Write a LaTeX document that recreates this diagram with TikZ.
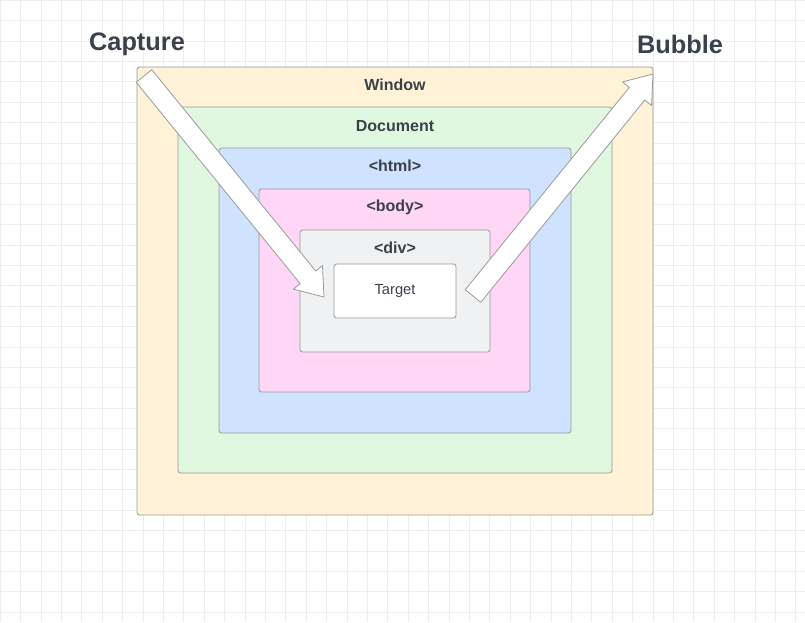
\documentclass[tikz,border=0pt]{standalone}
\usepackage{fontspec}
\setmainfont{Liberation Sans}
\usetikzlibrary{calc}
\definecolor{txt}{HTML}{3A414A}
\definecolor{bord}{HTML}{9A9A9A}
\tikzset{
 box/.style={draw=bord,line width=0.6pt,rounded corners=2pt,inner sep=0pt},
 lbl/.style={font=\bfseries\fontsize{12}{14}\selectfont,text=txt},
 big/.style={font=\bfseries\fontsize{19}{22}\selectfont,text=txt},
 fat/.style={fill=white,draw=bord,line width=0.6pt,line join=round}
}
\newcommand{\fatarrow}[2]{%
 \coordinate (fa) at #1; \coordinate (fb) at #2;
 \coordinate (fh) at ($(fb)!19pt!(fa)$);
 \draw[fat] ($(fa)!7.5pt!90:(fb)$) -- ($(fh)!7.5pt!-90:(fa)$) -- ($(fh)!14pt!-90:(fa)$) -- (fb)
  -- ($(fh)!14pt!90:(fa)$) -- ($(fh)!7.5pt!90:(fa)$) -- ($(fa)!7.5pt!-90:(fb)$) -- cycle;}
\begin{document}
\begin{tikzpicture}[x=0.75pt,y=-0.75pt]
\useasboundingbox (0,0) rectangle (805,622);
\fill[white] (0,0) rectangle (805,622);
\foreach \i in {0,...,40} {\draw[black!7,line width=0.4pt] (\i*20.4,0) -- (\i*20.4,622);}
\foreach \i in {0,...,31} {\draw[black!7,line width=0.4pt] (0,\i*20.4) -- (805,\i*20.4);}
\node[box,fill={rgb,255:red,255;green,242;blue,214},minimum width=387pt,minimum height=336pt] (win) at (395,291) {};
\node[box,fill={rgb,255:red,224;green,248;blue,224},minimum width=325.5pt,minimum height=274.5pt] (doc) at (395,290) {};
\node[box,fill={rgb,255:red,207;green,226;blue,255},minimum width=264pt,minimum height=213.75pt] (html) at (395,290.5) {};
\node[box,fill={rgb,255:red,255;green,214;blue,245},minimum width=203.25pt,minimum height=152.25pt] (body) at (394.5,290.5) {};
\node[box,fill={rgb,255:red,240;green,241;blue,243},minimum width=142.5pt,minimum height=91.5pt] (div) at (395,291) {};
\node[box,fill=white,minimum width=91.5pt,minimum height=40.5pt,font=\fontsize{11}{13}\selectfont,text=txt] (tgt) at (395,291) {Target};
\node[lbl] (lw) at (395,85) {Window};
\node[lbl] (ld) at (395,126) {Document};
\node[lbl] (lh) at (395,166) {<html>};
\node[lbl] (lb) at (395,207) {<body>};
\node[lbl] (lv) at (395,248) {<div>};
\node[big] (cap) at (137,44) {Capture};
\node[big] (bub) at (680,44) {Bubble};
\fatarrow{(144,76)}{(324,297)}
\fatarrow{(473,296)}{(653,74)}
\end{tikzpicture}
\end{document}
